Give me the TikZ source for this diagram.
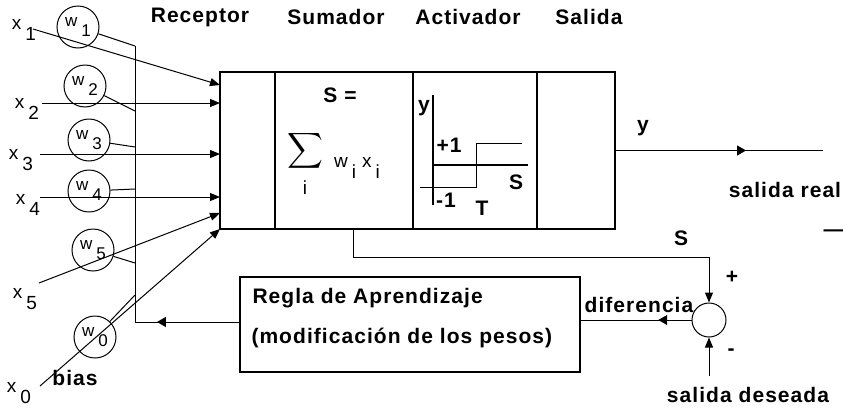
\documentclass[tikz,border=0pt]{standalone}
\usepackage{amsmath}
\usepackage{fontspec}
\setmainfont{Liberation Sans}[LetterSpace=5]
\usepackage{tikz}
\usetikzlibrary{arrows.meta}
\usetikzlibrary{positioning}
\usetikzlibrary{decorations.markings}

\newcommand{\subl}[2]{#1\kern4pt\raisebox{-0.6em}{#2}}

\begin{document}
\begin{tikzpicture}[x=1pt, y=-1pt, line width=1pt]
		\tikzset{txt/.style={font=\fontsize{21}{24}\selectfont\bfseries, inner sep=0pt}}
		\tikzset{lbl/.style={font=\fontsize{19}{22}\selectfont, inner sep=0pt}}
		\tikzset{weight/.style={shape=circle, draw, minimum size=42pt, inner sep=0pt, font=\fontsize{17}{20}\selectfont}}
		\tikzset{part/.style={draw, line width=2.5pt, minimum height=157pt, inner sep=0pt, outer sep=0pt}}
		\tikzset{edge/.style={-{Triangle[length=10pt, width=8pt]}}}
		\tikzset{midarr/.style={decoration={markings,
				mark=at position #1 with {\arrow{Triangle[length=9pt, width=10pt]}}},
				postaction={decorate}}}
		\useasboundingbox (0,0) rectangle (843,410);
		%headers
		\node[txt] (hrec) at (200,17) {Receptor};
		\node[txt] (hsum) at (336,17) {Sumador};
		\node[txt] (hact) at (468,17) {Activador};
		\node[txt] (hsal) at (589,17) {Salida};
		%neuron
		\node[part, minimum width=55pt] (rec) at (247.5,150.5) {};
		\node[part, minimum width=138pt, right=0pt of rec] (sumd) {};
		\node[part, minimum width=124pt, right=0pt of sumd] (act) {};
		\node[part, minimum width=78pt, right=0pt of act] (sal) {};
		%sumador
		\node[txt] (seq) at (340,95) {S =};
		\node[font=\fontsize{31}{34}\selectfont, inner sep=0pt] (sig) at (305,151) {$\displaystyle\sum$};
		\node[lbl] (sigi) at (305,188) {i};
		\node[lbl] (wx) at (357,168) {\subl{w}{i}\kern6pt\subl{x}{i}};
		%activador
		\draw[line width=2pt] (433,95) -- (433,205);
		\draw[line width=2pt] (433,165) -- (528,165);
		\draw (420,187) -- (476,187) -- (476,143) -- (522,143);
		\node[txt] (ay) at (424,108) {y};
		\node[txt] (ap) at (449,145) {+1};
		\node[txt] (am) at (446,200) {-1};
		\node[txt] (at) at (482,208) {T};
		\node[txt] (as) at (516,182) {S};
		%inputs
		\node[lbl] (x1) at (24,30) {\subl{x}{1}};
		\node[lbl] (x2) at (27,109) {\subl{x}{2}};
		\node[lbl] (x3) at (21,160) {\subl{x}{3}};
		\node[lbl] (x4) at (28,205) {\subl{x}{4}};
		\node[lbl] (x5) at (25,299) {\subl{x}{5}};
		\node[lbl] (x0) at (19,393) {\subl{x}{0}};
		\node[txt] (bias) at (75,378) {bias};
		\coordinate (s1) at (33,29);
		\coordinate (s2) at (42,103);
		\coordinate (s3) at (40,154);
		\coordinate (s4) at (40,197);
		\coordinate (s5) at (39,283);
		\coordinate (s0) at (40,386);
		\coordinate (t1) at (220,85);
		\coordinate (t5) at (220,213);
		%weights
		\node[weight] (w1) at (78,27) {\subl{w}{1}};
		\node[weight] (w2) at (85,86) {\subl{w}{2}};
		\node[weight] (w3) at (89,140) {\subl{w}{3}};
		\node[weight] (w4) at (89,191) {\subl{w}{4}};
		\node[weight] (w5) at (93,250) {\subl{w}{5}};
		\node[weight] (w0) at (95,337) {\subl{w}{0}};
		%bus
		\coordinate (btop) at (135,46);
		\coordinate (b2) at (135,111);
		\coordinate (b3) at (135,147);
		\coordinate (b4) at (135,189);
		\coordinate (b5) at (135,263);
		\coordinate (b0) at (135,295);
		\coordinate (bbot) at (135,322);
		%learning
		\node[draw, line width=1.2pt, minimum width=340pt, minimum height=95pt] (regla) at (410,324.5) {};
		\node[txt, anchor=west] (r1) at (252,298) {Regla de Aprendizaje};
		\node[txt, anchor=west] (r2) at (251,338) {(modificación de los pesos)};
		\node[shape=circle, draw, minimum size=34pt, inner sep=0pt] (dif) at (709,320) {};
		\node[txt] (ldif) at (639,305) {diferencia};
		\node[txt] (lplus) at (732,277) {+};
		\node[txt] (lmin) at (731,352) {-};
		\node[txt] (ls) at (681,238) {S};
		\node[txt] (ldes) at (748,395) {salida deseada};
		\coordinate (d0) at (709,376);
		%output
		\node[txt] (ly) at (643,128) {y};
		\node[txt] (lreal) at (785,190) {salida real};
		\node[txt] (dash) at (834,233) {—};
		\coordinate (yend) at (823,150.5);
		%edges
		\draw[edge] (s1) -- (t1);
		\draw[edge] (s2) -- (s2 -| rec.west);
		\draw[edge] (s3) -- (s3 -| rec.west);
		\draw[edge] (s4) -- (s4 -| rec.west);
		\draw[edge] (s5) -- (t5);
		\draw[edge] (s0) -- (rec.south west);
		\draw (w1) -- (btop);
		\draw (w2) -- (b2);
		\draw (w3) -- (b3);
		\draw (w4) -- (b4);
		\draw (w5) -- (b5);
		\draw (w0) -- (b0);
		\draw (bbot) -- (btop);
		\draw[midarr=0.79] (regla.west |- bbot) -- (bbot);
		\draw[midarr=0.63] (sal.east) -- (yend);
		\draw[edge] ([xshift=9pt]sumd.south) -- ++(0,28) -| (dif.north);
		\draw[edge] (d0) -- (dif.south);
		\draw[midarr=0.3] (dif.west) -- (dif.west -| regla.east);
		
\end{tikzpicture}
\end{document}
